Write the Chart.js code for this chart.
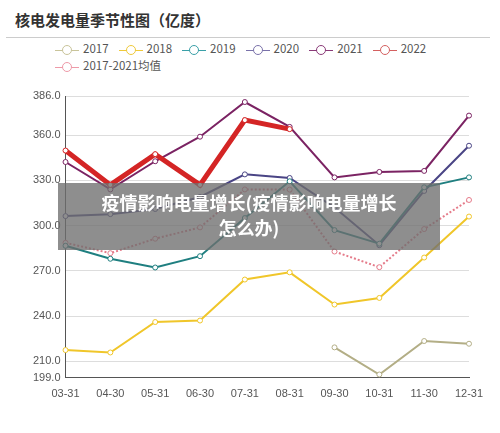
<!DOCTYPE html>
<html><head><meta charset="utf-8">
<script src="https://cdn.jsdelivr.net/npm/chart.js@4"></script>
<style>
body{margin:0;width:500px;height:433px;background:#fff;position:relative;overflow:hidden;font-family:"Noto Sans CJK SC","Noto Sans",sans-serif}
#title{position:absolute;left:15px;top:9px;font-size:15px;font-weight:bold;color:#333;font-family:"Noto Sans CJK SC",serif}
#rule{position:absolute;left:6px;top:37px;width:484px;height:1px;background:#ccc}
#legend{position:absolute;left:55px;top:40px;width:400px;font-size:11.5px;color:#555}
.it{display:inline-block;margin-right:10px;height:17px;line-height:17px;white-space:nowrap}
.mk{display:inline-block;position:relative;width:24px;height:10px;vertical-align:middle;margin-right:4px}
.mk i{position:absolute;left:0;right:0;top:5px;height:1px}
.mk b{position:absolute;left:7px;top:0;width:8px;height:8px;border-radius:50%;background:#fff;border:1px solid}
#ov{position:absolute;left:58px;top:183px;width:382px;height:67px;background:rgba(110,110,110,0.78);color:#fff;font-weight:bold;font-size:18px;text-align:center;line-height:25px;padding-top:7px;box-sizing:border-box}
#c{position:absolute;left:0;top:80px}
</style></head><body>
<div id="title">核电发电量季节性图（亿度）</div>
<div id="rule"></div>
<div id="legend"></div>
<canvas id="c" width="500" height="353"></canvas>
<div id="ov">疫情影响电量增长(疫情影响电量增长<br>怎么办)</div>
<script>
const categories=["03-31","04-30","05-31","06-30","07-31","08-31","09-30","10-31","11-30","12-31"];
const yTicks=[199,210,240,270,300,330,360,386];
const s2017=[null,null,null,null,null,null,219.2,201.2,223.4,221.6];
const s2018=[217.4,215.8,236,237,264.2,269,247.6,252,278.8,306];
const s2019=[286.6,278,272.2,279.7,305,329.4,297,288,325.4,332];
const s2020=[306.3,307.6,311,319,334,331.6,312,287,323,353];
const s2021=[342.2,324,342.7,359,382,365.5,332,335.6,336.3,373];
const s2022=[349.8,327,347.4,327,370,364,null,null,null,null];
const sAvg=[288.6,281.7,291.3,298.8,324,323.9,282.8,272.4,297.7,317];
const names=["2017","2018","2019","2020","2021","2022","2017-2021均值"];
const colors=["#b3ae86","#f0c62a","#1f7f80","#4a4585","#7b2363","#d42525","#e57b8a"];
const data=[s2017,s2018,s2019,s2020,s2021,s2022,sAvg];
const widths=[2,2,2,2,2,5,2];
const legendColors=["#c9c49a","#efc93a","#3aa0a8","#7a72aa","#8a3a78","#d46060","#ee9aa8"];
let lg=document.getElementById('legend');
names.forEach((n,i)=>{lg.innerHTML+=`<span class="it"><span class="mk"><i style="background:${legendColors[i]}"></i><b style="border-color:${legendColors[i]}"></b></span>${n}</span>`;if(i==5)lg.innerHTML+='<br>';});
new Chart(document.getElementById('c'),{type:'line',
data:{labels:categories,datasets:data.map((d,i)=>({label:names[i],data:d,borderColor:colors[i],backgroundColor:'#fff',borderWidth:widths[i],pointRadius:2.5,pointBorderWidth:1,pointBackgroundColor:'#fff',borderDash:i==6?[2,2]:[],tension:0,spanGaps:false,order:i==5?-1:0}))},
options:{animation:false,responsive:false,plugins:{legend:{display:false},tooltip:{enabled:false}},
layout:{padding:{left:28,right:31,top:16,bottom:30}},
scales:{x:{grid:{display:false,drawTicks:true},border:{color:'#555'},ticks:{color:'#555',font:{size:11},maxRotation:0,autoSkip:false,padding:2}},
y:{min:199,max:386,afterBuildTicks:a=>{a.ticks=yTicks.map(v=>({value:v}))},grid:{color:'#ddd',drawTicks:false},border:{color:'#555'},ticks:{color:'#555',font:{size:11},padding:5,callback:v=>v.toFixed(1)}}}}});
</script></body></html>
